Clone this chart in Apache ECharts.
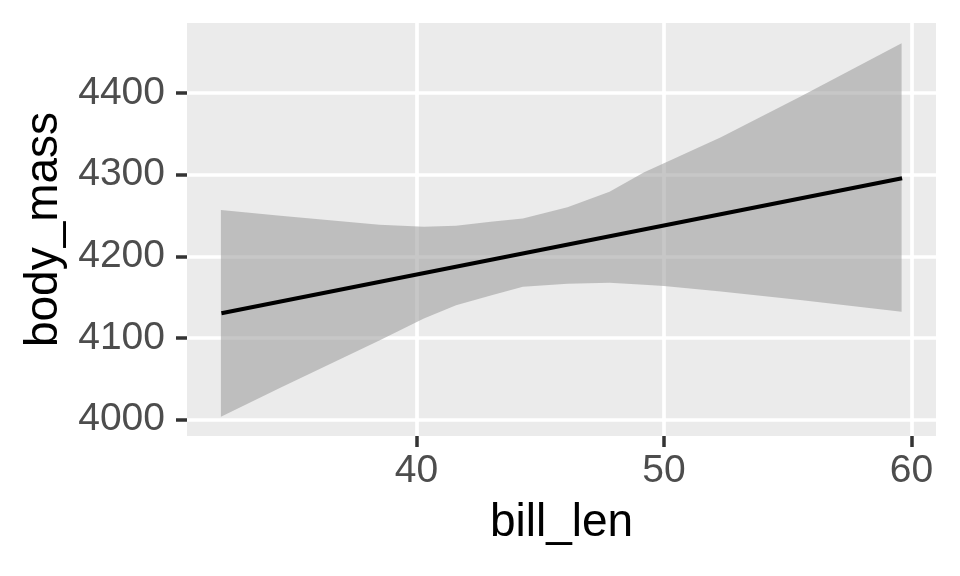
<!DOCTYPE html>
<html><head><meta charset="utf-8">
<script src="https://cdn.jsdelivr.net/npm/echarts@6/dist/echarts.min.js"></script>
<style>html,body{margin:0;padding:0;background:#fff}#c{width:960px;height:576px}</style>
</head><body><div id="c"></div>
<script>
// confidence band
const bandX     = [32.1, 34.5, 38.5, 40.3, 41.6, 43.0, 44.3, 46.1, 47.8, 49.2, 50.0, 52.3, 55.5, 59.6];
const bandUpper = [4256.6, 4249.6, 4238.6, 4236.1, 4237.4, 4242.3, 4246.2, 4259.9, 4279.0, 4302.7, 4313.7, 4345.5, 4395.2, 4460.5];
const bandLower = [4003.7, 4039.0, 4097.0, 4124.0, 4140.0, 4152.0, 4162.7, 4166.5, 4167.5, 4165.0, 4163.5, 4157.0, 4146.5, 4132.1];
// fitted line
const fitX = [32.12, 59.62];
const fitY = [4130.2, 4295.5];
// ticks
const xTicks = [40, 50, 60];
const yTicks = [4000, 4100, 4200, 4300, 4400];

const chart = echarts.init(document.getElementById('c'), null, {renderer: 'canvas'});

const bandData = bandX.map((x, i) => [x, bandLower[i], bandUpper[i]]);
const fitData = fitX.map((x, i) => [x, fitY[i]]);

const tickStyle = {show: true, length: 11, lineStyle: {color: '#333333', width: 3.5}};
const plain = v => String(v);

chart.setOption({
  animation: false,
  backgroundColor: '#ffffff',
  grid: {left: 187, right: 24, top: 23, bottom: 140, show: true, backgroundColor: '#EBEBEB', borderWidth: 0},
  xAxis: {
    type: 'value', min: 30.73, max: 60.99,
    name: 'bill_len', nameLocation: 'middle', nameGap: 64,
    nameTextStyle: {color: '#000000', fontSize: 46, fontFamily: 'Liberation Sans'},
    axisLine: {show: false},
    axisTick: Object.assign({customValues: xTicks}, tickStyle),
    axisLabel: {customValues: xTicks, formatter: plain, margin: 16, color: '#4D4D4D', fontSize: 39, fontFamily: 'Liberation Sans'},
    splitLine: {show: true, lineStyle: {color: '#ffffff', width: 3.7}}
  },
  yAxis: {
    type: 'value', min: 3980.1, max: 4485.4,
    name: 'body_mass', nameLocation: 'middle', nameGap: 111, nameRotate: 90,
    nameTextStyle: {color: '#000000', fontSize: 46, fontFamily: 'Liberation Sans'},
    axisLine: {show: false},
    axisTick: Object.assign({customValues: yTicks}, tickStyle),
    axisLabel: {customValues: yTicks, formatter: plain, margin: 22, color: '#4D4D4D', fontSize: 39, fontFamily: 'Liberation Sans'},
    splitLine: {show: true, lineStyle: {color: '#ffffff', width: 3.7}}
  },
  series: [
    {
      type: 'custom',
      z: 2,
      data: [0],
      renderItem: function (params, api) {
        const pts = [];
        for (let i = 0; i < bandData.length; i++) pts.push(api.coord([bandData[i][0], bandData[i][2]]));
        for (let i = bandData.length - 1; i >= 0; i--) pts.push(api.coord([bandData[i][0], bandData[i][1]]));
        return {type: 'polygon', shape: {points: pts}, style: {fill: 'rgba(153,153,153,0.55)'}};
      },
      silent: true
    },
    {
      type: 'line', z: 3, data: fitData, showSymbol: false, symbol: 'none',
      lineStyle: {color: '#000000', width: 4}, silent: true
    }
  ]
});
</script>
</body></html>
